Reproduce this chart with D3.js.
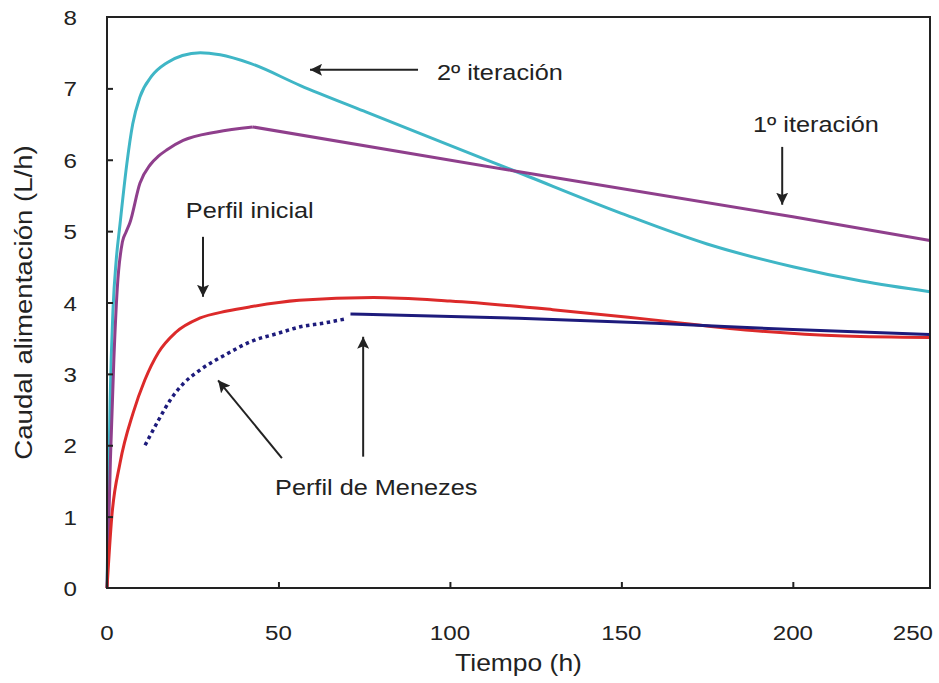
<!DOCTYPE html>
<html>
<head>
<meta charset="utf-8">
<script src="https://cdn.jsdelivr.net/npm/d3@7"></script>
<style>
  body { margin: 0; background: #fff; }
  text { font-family: "Liberation Sans", Arial, sans-serif; fill: #222; }
</style>
</head>
<body>
<div id="chart"></div>
<script>
// Series: [time (h), flow (L/h)]
const iter2 = [[0,0],[0.5,1.5],[0.9,2.6],[1.75,3.9],[2.7,4.6],[3.8,5.1],[5.8,5.95],[7.5,6.5],[9.6,6.88],[13,7.17],
  [17.5,7.36],[22,7.46],[27.2,7.5],[33,7.47],[41.8,7.35],[56.4,7.04],[75,6.68],[100,6.2],[118,5.86],
  [150,5.25],[175,4.82],[200,4.5],[220,4.3],[240,4.15]];
const iter1 = [[0,0],[1,1.8],[2,3.2],[3,4.2],[4.5,4.85],[5.5,4.98],[6.7,5.12],[9.6,5.67],[12.6,5.93],
  [15,6.05],[17.5,6.14],[22.2,6.27],[32,6.39],[42.5,6.46],[118,5.85],[200,5.2],[240,4.87]];
const inicial = [[0,0],[1.4,1.0],[3.8,1.75],[7.6,2.45],[11,2.91],[15,3.3],[20,3.58],[27,3.78],
  [35,3.88],[41.8,3.94],[56,4.03],[77.7,4.07],[100,4.02],[130,3.9],[158.6,3.76],[190,3.6],
  [215,3.53],[240,3.51]];
const menezesDotted = [[11.1,2.0],[15,2.35],[18.4,2.63],[22,2.85],[27,3.05],[35,3.28],[41.8,3.45],
  [50,3.57],[56.4,3.66],[63,3.71],[69.5,3.77]];
const menezesSolid = [[71,3.84],[120,3.78],[160,3.71],[200,3.62],[240,3.55]];

const xTickValues = [0, 50, 100, 150, 200, 240];
const xTickLabels = ["0", "50", "100", "150", "200", "250"];
const yTickValues = [0, 1, 2, 3, 4, 5, 6, 7, 8];

// Annotations: text, text anchor point and arrow (tail -> head) in data units
const notes = [
  {text: "2º iteración", tx: 96.2, ty: 7.12, from: [90.7, 7.26], to: [59.2, 7.26]},
  {text: "1º iteración", tx: 188.4, ty: 6.39, from: [196.9, 6.18], to: [196.9, 5.37]},
  {text: "Perfil inicial", tx: 23, ty: 5.18, from: [28, 4.92], to: [28, 4.08]},
  {text: "Perfil de Menezes", tx: 49, ty: 1.3, from: [51, 1.82], to: [32.4, 2.91]},
  {text: "", tx: 0, ty: 0, from: [74.7, 1.84], to: [74.7, 3.52]}
];

const W = 939, H = 683;
const margin = {top: 17, right: 9, bottom: 95, left: 107};
const sx = 1.15; // glyphs in the picture are a little wider than Liberation Sans

const svg = d3.select("#chart").append("svg")
  .attr("width", W).attr("height", H);

const x = d3.scaleLinear().domain([0, 240]).range([margin.left, W - margin.right]);
const y = d3.scaleLinear().domain([0, 8]).range([H - margin.bottom, margin.top]);

function label(px, py, txt, size, anchor) {
  return svg.append("text")
    .attr("transform", `translate(${px},${py}) scale(${sx},1)`)
    .attr("text-anchor", anchor || "start")
    .style("font-size", size + "px")
    .text(txt);
}

// arrow head marker
svg.append("defs").append("marker")
  .attr("id", "arrow")
  .attr("viewBox", "0 0 10 10")
  .attr("refX", 10).attr("refY", 5)
  .attr("markerWidth", 6).attr("markerHeight", 6)
  .attr("markerUnits", "strokeWidth")
  .attr("orient", "auto")
  .append("path")
  .attr("d", "M0,0 L10,5 L0,10 L2,5 Z")
  .attr("fill", "#222");

// curves
const line = d3.line().x(d => x(d[0])).y(d => y(d[1])).curve(d3.curveMonotoneX);
const straight = d3.line().x(d => x(d[0])).y(d => y(d[1])).curve(d3.curveLinear);

function drawCurve(data, color, gen, dash) {
  svg.append("path")
    .datum(data)
    .attr("fill", "none")
    .attr("stroke", color)
    .attr("stroke-width", dash ? 3.5 : 3)
    .attr("stroke-dasharray", dash || null)
    .attr("stroke-linejoin", "round")
    .attr("d", gen);
}
drawCurve(iter2, "#3fb6c6", line);
drawCurve(iter1.slice(0, 14), "#8f3f8c", line);
drawCurve(iter1.slice(13), "#8f3f8c", straight);
drawCurve(inicial, "#dc2a2a", line);
drawCurve(menezesSolid, "#1d1b7c", line);
drawCurve(menezesDotted, "#1d1b7c", line, "3.5,3.5");

// axes frame
const axisColor = "#222";
svg.append("rect")
  .attr("x", x(0)).attr("y", y(8))
  .attr("width", x(240) - x(0)).attr("height", y(0) - y(8))
  .attr("fill", "none").attr("stroke", axisColor).attr("stroke-width", 2);

const xAxis = svg.append("g")
  .attr("transform", `translate(0,${y(0)})`)
  .call(d3.axisTop(x).tickValues(xTickValues.slice(1, 5)).tickSize(6).tickFormat(""));
const yAxis = svg.append("g")
  .attr("transform", `translate(${x(0)},0)`)
  .call(d3.axisRight(y).tickValues(yTickValues.slice(1, 8)).tickSize(6).tickFormat(""));
[xAxis, yAxis].forEach(g => {
  g.select(".domain").remove();
  g.selectAll("line").attr("stroke", axisColor).attr("stroke-width", 2);
});

// tick labels
xTickValues.forEach((v, i) => {
  const last = i === xTickValues.length - 1;
  label(last ? x(v) + 3 : x(v), y(0) + 52, xTickLabels[i], 21, last ? "end" : "middle");
});
yTickValues.forEach(v => label(x(0) - 30, y(v) + 8, String(v), 21, "end"));

// axis titles
label((x(0) + x(240)) / 2, H - 12, "Tiempo (h)", 23, "middle");
svg.append("text")
  .attr("transform", `translate(32,${(y(0) + y(8)) / 2}) rotate(-90) scale(${sx},1)`)
  .attr("text-anchor", "middle")
  .style("font-size", "24px")
  .text("Caudal alimentación (L/h)");

// annotations
notes.forEach(n => {
  if (n.text) label(x(n.tx), y(n.ty), n.text, 22, "start");
  svg.append("line")
    .attr("x1", x(n.from[0])).attr("y1", y(n.from[1]))
    .attr("x2", x(n.to[0])).attr("y2", y(n.to[1]))
    .attr("stroke", "#222").attr("stroke-width", 2)
    .attr("marker-end", "url(#arrow)");
});
</script>
</body>
</html>
